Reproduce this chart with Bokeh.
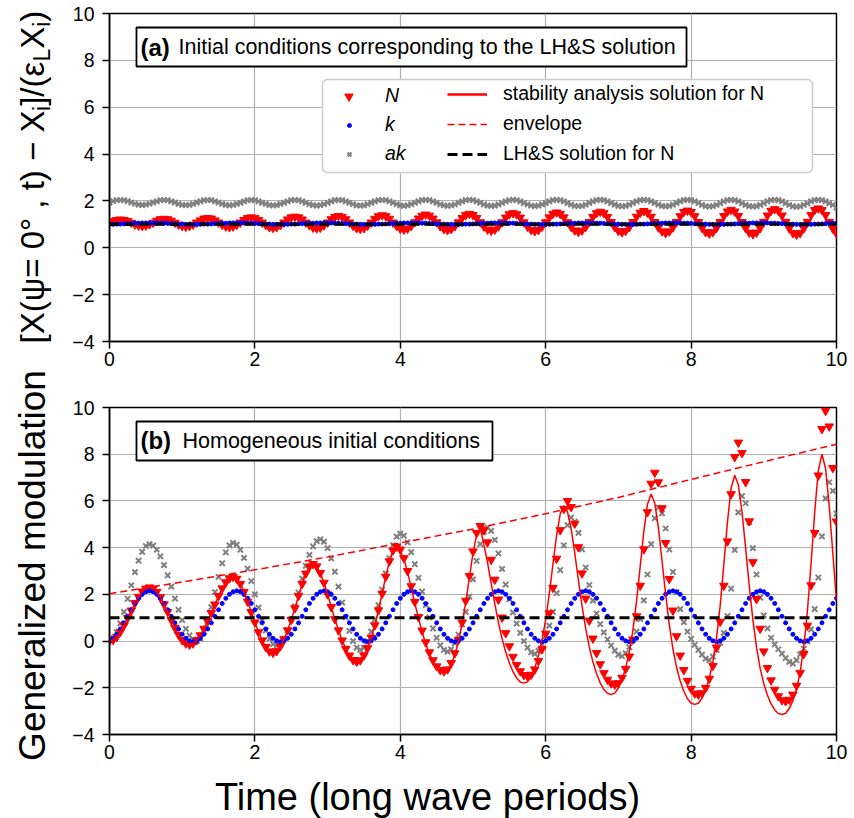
import numpy as np
from bokeh.plotting import figure
from bokeh.layouts import column, row
from bokeh.models import Label, BoxAnnotation, Legend, LegendItem
from bokeh.embed import file_html
from bokeh.resources import INLINE

# ---------------- data ----------------
time_step = 0.05
time = np.round(np.arange(201) * time_step, 2)   # long wave periods

# panel (a): initial conditions corresponding to the LH&S solution
N_a = [1.07, 1.14, 1.19, 1.21, 1.19, 1.14, 1.07, 1.00, 0.95, 0.93, 0.95, 1.00,
       1.07, 1.16, 1.22, 1.24, 1.22, 1.16, 1.07, 0.99, 0.93, 0.90, 0.93, 0.99,
       1.08, 1.17, 1.25, 1.27, 1.25, 1.17, 1.08, 0.98, 0.91, 0.88, 0.91, 0.98,
       1.08, 1.19, 1.27, 1.30, 1.27, 1.19, 1.08, 0.97, 0.88, 0.85, 0.88, 0.97,
       1.08, 1.21, 1.30, 1.33, 1.30, 1.21, 1.08, 0.96, 0.86, 0.83, 0.86, 0.96,
       1.08, 1.22, 1.32, 1.36, 1.32, 1.22, 1.08, 0.94, 0.84, 0.81, 0.84, 0.94,
       1.08, 1.24, 1.35, 1.39, 1.35, 1.24, 1.08, 0.93, 0.82, 0.78, 0.82, 0.93,
       1.09, 1.25, 1.37, 1.42, 1.37, 1.25, 1.09, 0.92, 0.80, 0.76, 0.80, 0.92,
       1.09, 1.27, 1.40, 1.45, 1.40, 1.27, 1.09, 0.91, 0.78, 0.73, 0.78, 0.91,
       1.09, 1.29, 1.43, 1.48, 1.43, 1.29, 1.09, 0.90, 0.76, 0.71, 0.76, 0.90,
       1.09, 1.30, 1.45, 1.51, 1.45, 1.30, 1.09, 0.89, 0.74, 0.68, 0.74, 0.89,
       1.10, 1.32, 1.48, 1.54, 1.48, 1.32, 1.10, 0.88, 0.72, 0.66, 0.72, 0.88,
       1.10, 1.33, 1.50, 1.57, 1.50, 1.33, 1.10, 0.87, 0.70, 0.63, 0.70, 0.87,
       1.10, 1.35, 1.53, 1.59, 1.53, 1.35, 1.10, 0.85, 0.67, 0.61, 0.67, 0.85,
       1.10, 1.36, 1.55, 1.62, 1.55, 1.36, 1.10, 0.84, 0.65, 0.58, 0.65, 0.84,
       1.11, 1.38, 1.58, 1.65, 1.58, 1.38, 1.11, 0.83, 0.63, 0.56, 0.63, 0.83,
       1.11, 1.40, 1.61, 1.68, 1.61, 1.40, 1.11, 0.82, 0.61]

k_a = [1.00, 1.00, 1.01, 1.01, 1.02, 1.03, 1.04, 1.05, 1.05, 1.06, 1.06, 1.06,
       1.06, 1.06, 1.05, 1.05, 1.04, 1.03, 1.02, 1.01, 1.01, 1.00, 1.00, 1.00,
       1.00, 1.00, 1.01, 1.01, 1.02, 1.03, 1.04, 1.05, 1.05, 1.06, 1.06, 1.06,
       1.06, 1.06, 1.05, 1.05, 1.04, 1.03, 1.02, 1.01, 1.01, 1.00, 1.00, 1.00,
       1.00, 1.00, 1.01, 1.01, 1.02, 1.03, 1.04, 1.05, 1.05, 1.06, 1.06, 1.06,
       1.06, 1.06, 1.05, 1.05, 1.04, 1.03, 1.02, 1.01, 1.01, 1.00, 1.00, 1.00,
       1.00, 1.00, 1.01, 1.01, 1.02, 1.03, 1.04, 1.05, 1.05, 1.06, 1.06, 1.06,
       1.06, 1.06, 1.05, 1.05, 1.04, 1.03, 1.02, 1.01, 1.01, 1.00, 1.00, 1.00,
       1.00, 1.00, 1.01, 1.01, 1.02, 1.03, 1.04, 1.05, 1.05, 1.06, 1.06, 1.06,
       1.06, 1.06, 1.05, 1.05, 1.04, 1.03, 1.02, 1.01, 1.01, 1.00, 1.00, 1.00,
       1.00, 1.00, 1.01, 1.01, 1.02, 1.03, 1.04, 1.05, 1.05, 1.06, 1.06, 1.06,
       1.06, 1.06, 1.05, 1.05, 1.04, 1.03, 1.02, 1.01, 1.01, 1.00, 1.00, 1.00,
       1.00, 1.00, 1.01, 1.01, 1.02, 1.03, 1.04, 1.05, 1.05, 1.06, 1.06, 1.06,
       1.06, 1.06, 1.05, 1.05, 1.04, 1.03, 1.02, 1.01, 1.01, 1.00, 1.00, 1.00,
       1.00, 1.00, 1.01, 1.01, 1.02, 1.03, 1.04, 1.05, 1.05, 1.06, 1.06, 1.06,
       1.06, 1.06, 1.05, 1.05, 1.04, 1.03, 1.02, 1.01, 1.01, 1.00, 1.00, 1.00,
       1.00, 1.00, 1.01, 1.01, 1.02, 1.03, 1.04, 1.05, 1.05]

ak_a = [1.93, 1.99, 2.03, 2.04, 2.03, 1.99, 1.93, 1.88, 1.84, 1.82, 1.84, 1.88,
        1.93, 1.98, 2.03, 2.04, 2.03, 1.98, 1.93, 1.87, 1.83, 1.82, 1.83, 1.87,
        1.93, 1.98, 2.03, 2.04, 2.03, 1.98, 1.93, 1.87, 1.83, 1.81, 1.83, 1.87,
        1.92, 1.98, 2.03, 2.04, 2.03, 1.98, 1.92, 1.87, 1.82, 1.81, 1.82, 1.87,
        1.92, 1.98, 2.03, 2.04, 2.03, 1.98, 1.92, 1.86, 1.82, 1.80, 1.82, 1.86,
        1.92, 1.98, 2.03, 2.04, 2.03, 1.98, 1.92, 1.86, 1.81, 1.80, 1.81, 1.86,
        1.92, 1.98, 2.03, 2.04, 2.03, 1.98, 1.92, 1.86, 1.81, 1.79, 1.81, 1.86,
        1.92, 1.98, 2.03, 2.05, 2.03, 1.98, 1.92, 1.85, 1.81, 1.79, 1.81, 1.85,
        1.92, 1.98, 2.03, 2.05, 2.03, 1.98, 1.92, 1.85, 1.80, 1.79, 1.80, 1.85,
        1.91, 1.98, 2.03, 2.05, 2.03, 1.98, 1.91, 1.85, 1.80, 1.78, 1.80, 1.85,
        1.91, 1.98, 2.03, 2.05, 2.03, 1.98, 1.91, 1.84, 1.79, 1.78, 1.79, 1.84,
        1.91, 1.98, 2.03, 2.05, 2.03, 1.98, 1.91, 1.84, 1.79, 1.77, 1.79, 1.84,
        1.91, 1.98, 2.03, 2.05, 2.03, 1.98, 1.91, 1.84, 1.79, 1.77, 1.79, 1.84,
        1.91, 1.98, 2.03, 2.05, 2.03, 1.98, 1.91, 1.83, 1.78, 1.76, 1.78, 1.83,
        1.90, 1.98, 2.03, 2.05, 2.03, 1.98, 1.90, 1.83, 1.78, 1.76, 1.78, 1.83,
        1.90, 1.98, 2.03, 2.05, 2.03, 1.98, 1.90, 1.83, 1.77, 1.75, 1.77, 1.83,
        1.90, 1.98, 2.03, 2.05, 2.03, 1.98, 1.90, 1.83, 1.72]

# panel (b): homogeneous initial conditions
N_b = [0.00, 0.05, 0.18, 0.40, 0.67, 0.99, 1.31, 1.63, 1.90, 2.12, 2.25, 2.30,
       2.25, 2.11, 1.88, 1.58, 1.25, 0.90, 0.57, 0.27, 0.04, -0.10, -0.15,
       -0.10, 0.04, 0.25, 0.53, 0.85, 1.20, 1.57, 1.93, 2.26, 2.52, 2.69, 2.75,
       2.67, 2.45, 2.11, 1.69, 1.24, 0.80, 0.38, 0.03, -0.25, -0.44, -0.50,
       -0.43, -0.22, 0.08, 0.46, 0.91, 1.41, 1.94, 2.45, 2.89, 3.19, 3.30,
       3.20, 2.92, 2.50, 2.00, 1.46, 0.94, 0.46, 0.03, -0.33, -0.62, -0.81, -0.88,
       -0.82, -0.61, -0.29, 0.15, 0.68, 1.32, 2.03, 2.76, 3.42, 3.88, 4.05,
       3.92, 3.55, 3.00, 2.35, 1.68, 1.03, 0.45, -0.05, -0.48, -0.82, -1.08, -1.24, -1.29,
       -1.21, -0.94, -0.52, 0.05, 0.80, 1.73, 2.79, 3.84, 4.63, 4.93,
       4.75, 4.23, 3.48, 2.63, 1.78, 1.01, 0.34, -0.22, -0.67, -1.02, -1.29, -1.45, -1.50,
       -1.44, -1.21, -0.85, -0.35, 0.32, 1.19, 2.28, 3.53, 4.75, 5.66, 6.00,
       5.74, 5.03, 4.02, 2.90, 1.82, 0.88, 0.11, -0.51, -0.99, -1.37, -1.65, -1.81, -1.86,
       -1.80, -1.57, -1.19, -0.66, 0.07, 1.06, 2.37, 3.93, 5.52, 6.74, 7.21,
       6.80, 5.69, 4.20, 2.66, 1.31, 0.21, -0.62, -1.24, -1.70, -2.04, -2.24, -2.29,
       -2.23, -2.00, -1.61, -1.06, -0.28, 0.83, 2.37, 4.27, 6.29, 7.88, 8.50,
       8.05, 6.81, 5.13, 3.38, 1.80, 0.53, -0.44, -1.15, -1.68, -2.08, -2.36, -2.53, -2.57,
       -2.51, -2.29, -1.91, -1.36, -0.55, 0.66, 2.39, 4.63, 7.09, 9.08, 9.86,
       9.19, 7.41, 5.12]

k_b = [0.01, 0.12, 0.29, 0.52, 0.78, 1.06, 1.34, 1.61, 1.83, 2.00, 2.11, 2.15,
       2.11, 2.00, 1.83, 1.61, 1.34, 1.06, 0.78, 0.52, 0.29, 0.12, 0.01, -0.03,
       0.01, 0.12, 0.29, 0.52, 0.78, 1.06, 1.34, 1.61, 1.83, 2.00, 2.11, 2.15,
       2.11, 2.00, 1.83, 1.61, 1.34, 1.06, 0.78, 0.52, 0.29, 0.12, 0.01, -0.03,
       0.01, 0.12, 0.29, 0.52, 0.78, 1.06, 1.34, 1.61, 1.83, 2.00, 2.11, 2.15,
       2.11, 2.00, 1.83, 1.61, 1.34, 1.06, 0.78, 0.52, 0.29, 0.12, 0.01, -0.03,
       0.01, 0.12, 0.29, 0.52, 0.78, 1.06, 1.34, 1.61, 1.83, 2.00, 2.11, 2.15,
       2.11, 2.00, 1.83, 1.61, 1.34, 1.06, 0.78, 0.52, 0.29, 0.12, 0.01, -0.03,
       0.01, 0.12, 0.29, 0.52, 0.78, 1.06, 1.34, 1.61, 1.83, 2.00, 2.11, 2.15,
       2.11, 2.00, 1.83, 1.61, 1.34, 1.06, 0.78, 0.52, 0.29, 0.12, 0.01, -0.03,
       0.01, 0.12, 0.29, 0.52, 0.78, 1.06, 1.34, 1.61, 1.83, 2.00, 2.11, 2.15,
       2.11, 2.00, 1.83, 1.61, 1.34, 1.06, 0.78, 0.52, 0.29, 0.12, 0.01, -0.03,
       0.01, 0.12, 0.29, 0.52, 0.78, 1.06, 1.34, 1.61, 1.83, 2.00, 2.11, 2.15,
       2.11, 2.00, 1.83, 1.61, 1.34, 1.06, 0.78, 0.52, 0.29, 0.12, 0.01, -0.03,
       0.01, 0.12, 0.29, 0.52, 0.78, 1.06, 1.34, 1.61, 1.83, 2.00, 2.11, 2.15,
       2.11, 2.00, 1.83, 1.61, 1.34, 1.06, 0.78, 0.52, 0.29, 0.12, 0.01, -0.03,
       0.01, 0.12, 0.29, 0.52, 0.78, 1.06, 1.34, 1.61, 1.83]

ak_b = [0.05, 0.13, 0.38, 0.76, 1.25, 1.81, 2.39, 2.95, 3.44, 3.82, 4.07, 4.15,
        4.09, 3.91, 3.63, 3.25, 2.81, 2.33, 1.82, 1.34, 0.90, 0.52, 0.24, 0.06, 0.00,
        0.10, 0.40, 0.87, 1.45, 2.10, 2.75, 3.33, 3.80, 4.10, 4.20,
        4.13, 3.91, 3.56, 3.10, 2.57, 2.00, 1.43, 0.90, 0.45, 0.09, -0.13, -0.20,
        -0.12, 0.11, 0.47, 0.94, 1.49, 2.08, 2.67, 3.22, 3.69, 4.05, 4.28, 4.36,
        4.26, 3.98, 3.54, 2.97, 2.33, 1.65, 1.01, 0.44, 0.00, -0.28, -0.38,
        -0.28, -0.01, 0.40, 0.93, 1.54, 2.20, 2.90, 3.55, 4.10, 4.47, 4.60,
        4.51, 4.23, 3.81, 3.29, 2.71, 2.12, 1.54, 1.01, 0.54, 0.14, -0.18, -0.38, -0.45,
        -0.35, -0.09, 0.27, 0.71, 1.25, 1.90, 2.64, 3.43, 4.15, 4.67, 4.86,
        4.72, 4.33, 3.75, 3.09, 2.42, 1.79, 1.23, 0.75, 0.35, 0.00, -0.28, -0.48, -0.55,
        -0.42, -0.14, 0.21, 0.66, 1.25, 2.05, 3.04, 4.10, 4.96, 5.29,
        5.11, 4.63, 3.93, 3.15, 2.40, 1.73, 1.18, 0.73, 0.37, 0.07, -0.19, -0.41, -0.58, -0.65,
        -0.52, -0.26, 0.03, 0.40, 0.94, 1.74, 2.85, 4.15, 5.26, 5.71,
        5.47, 4.82, 3.92, 2.96, 2.09, 1.37, 0.81, 0.40, 0.09, -0.16, -0.38, -0.58, -0.75, -0.82,
        -0.66, -0.38, -0.08, 0.35, 1.07, 2.25, 3.90, 5.51, 6.21,
        5.90, 5.08, 3.98, 2.85, 1.86, 1.10, 0.54, 0.14, -0.14, -0.35, -0.54, -0.73, -0.89, -0.97,
        -0.82, -0.57, -0.33, -0.01, 0.50, 1.37, 2.72, 4.48, 6.11, 6.80,
        6.43, 5.46]

# stability analysis solution for N: identical to the markers early on, then diverging
stab_b = N_b[:79] + [
    4.00,
    3.87, 3.50, 2.95, 2.30, 1.62, 0.98, 0.39, -0.11, -0.54, -0.88, -1.14, -1.30, -1.35,
    -1.27, -1.01, -0.59, -0.02, 0.73, 1.66, 2.72, 3.76, 4.55, 4.85,
    4.13, 3.36, 2.47, 1.59, 0.79, 0.10, -0.47, -0.94, -1.31, -1.58, -1.75, -1.80,
    -1.74, -1.51, -1.14, -0.63, 0.05, 0.93, 2.04, 3.30, 4.53, 5.45, 5.80,
    5.53, 4.80, 3.76, 2.61, 1.50, 0.54, -0.26, -0.90, -1.40, -1.79, -2.07, -2.24, -2.29,
    -2.23, -2.01, -1.66, -1.15, -0.46, 0.48, 1.72, 3.20, 4.70, 5.86, 6.30,
    5.91, 4.86, 3.45, 1.99, 0.70, -0.34, -1.13, -1.71, -2.15, -2.47, -2.66, -2.71,
    -2.66, -2.45, -2.10, -1.59, -0.88, 0.13, 1.52, 3.26, 5.09, 6.54, 7.10,
    6.68, 5.54, 3.98, 2.36, 0.91, -0.27, -1.17, -1.83, -2.32, -2.68, -2.95, -3.10, -3.14,
    -3.09, -2.89, -2.55, -2.05, -1.33, -0.25, 1.30, 3.31, 5.51, 7.30, 8.00,
    7.39, 5.79, 3.73, 1.73]

env_t = [0, 1, 2, 3, 4, 5, 6, 7, 8, 9, 10]
env_b = [2.03, 2.53, 3.05, 3.60, 4.20, 4.80, 5.45, 6.15, 6.92, 7.68, 8.43]

lhs_t = [0, 10]
lhs_N = [1.0, 1.0]

x_ticks = [0, 2, 4, 6, 8, 10]
y_ticks = [-4, -2, 0, 2, 4, 6, 8, 10]
y_tick_text = {-4: "\u22124", -2: "\u22122"}

# ---------------- styling helpers ----------------
FONT = "Liberation Sans"
RED, BLUE, GRAY = "#ff0000", "#0000ff", "#808080"


def make_fig(height, top, bottom):
    p = figure(width=785, height=height, x_range=(0, 10), y_range=(-4, 10),
               output_backend="svg", toolbar_location=None,
               min_border_left=46, min_border_right=12,
               min_border_top=top, min_border_bottom=bottom)
    p.background_fill_color = "white"
    p.border_fill_color = "white"
    p.outline_line_color = "black"
    p.outline_line_width = 1.5
    p.outline_line_alpha = 1.0
    for ax in (p.xaxis[0], p.yaxis[0]):
        ax.axis_line_color = "black"
        ax.axis_line_width = 1.5
        ax.major_tick_line_color = "black"
        ax.major_tick_line_width = 1.5
        ax.major_tick_out = 7
        ax.major_tick_in = 0
        ax.minor_tick_out = 0
        ax.minor_tick_in = 0
        ax.major_label_text_font = FONT
        ax.major_label_text_font_size = "19.5px"
        ax.major_label_text_color = "black"
    p.xaxis.ticker = x_ticks
    p.yaxis.ticker = y_ticks
    p.yaxis.major_label_overrides = y_tick_text
    p.xaxis.major_label_standoff = 3
    p.yaxis.major_label_standoff = 8
    p.grid.grid_line_color = "#b0b0b0"
    p.grid.grid_line_width = 1.2
    return p


def blank_fig(width, height):
    p = figure(width=width, height=height, x_range=(0, width), y_range=(0, height),
               x_axis_type=None, y_axis_type=None, output_backend="svg",
               toolbar_location=None, min_border=0)
    p.outline_line_color = None
    p.background_fill_color = "white"
    p.border_fill_color = "white"
    return p


def txt(p, x, y, text, size, **kw):
    lab = Label(x=x, y=y, text=text, text_font=FONT, text_font_size=size,
                text_color="black", **kw)
    p.add_layout(lab)
    return lab


def box(p, left, right, bottom, top, color, width, radius=0):
    p.add_layout(BoxAnnotation(left=left, right=right, bottom=bottom, top=top,
                               fill_color="white", fill_alpha=1.0,
                               line_color=color, line_alpha=1.0, line_width=width,
                               border_radius=radius))


def legend(items, loc, gw, standoff, italic=False):
    leg = Legend(items=items, location=loc, orientation="vertical",
                 glyph_width=gw, glyph_height=22, label_height=22, spacing=7,
                 label_standoff=standoff, padding=0, margin=0,
                 border_line_alpha=0, background_fill_alpha=0,
                 inactive_fill_alpha=0,
                 label_text_font=FONT, label_text_font_size="19.5px",
                 label_text_color="black",
                 label_text_font_style="italic" if italic else "normal")
    return leg


# ---------------- panel (a) ----------------
pa = make_fig(387, 13, 46)
r_ak_a = pa.scatter(time, ak_a, marker="x", size=7.5, line_color=GRAY, line_width=2)
r_N_a = pa.scatter(time, N_a, marker="inverted_triangle", size=8.5,
                   fill_color=RED, line_color=RED)
r_k_a = pa.scatter(time, k_a, marker="circle", size=4, fill_color=BLUE, line_color=BLUE)
r_lhs_a = pa.line(lhs_t, lhs_N, line_color="black", line_width=3, line_dash="10 5")
# series only shown in panel (b); kept hidden here so the legend can show their style
r_stab_a = pa.line(time, N_a, line_color=RED, line_width=2.5, visible=False)
r_env_a = pa.line(env_t, env_b, line_color=RED, line_width=1.5, line_dash="7 4",
                  visible=False)

box(pa, 0.371, 7.937, 7.738, 9.402, "black", 1.8)
txt(pa, 0.426, 8.570, "(a)", "24px", text_font_style="bold", text_baseline="middle")
txt(pa, 0.949, 8.570, "Initial conditions corresponding to the LH&S solution", "21.5px",
    text_baseline="middle")

box(pa, 2.930, 9.670, 3.214, 7.183, "#cccccc", 1.5, radius=5)
pa.add_layout(legend([LegendItem(label="N", renderers=[r_N_a])], (229, 234), 21, 26, True))
pa.add_layout(legend([LegendItem(label="k", renderers=[r_k_a])], (235, 205), 10, 31, True))
pa.add_layout(legend([LegendItem(label="ak", renderers=[r_ak_a])], (233, 176), 14, 29, True))
pa.add_layout(legend([LegendItem(label="stability analysis solution for N", renderers=[r_stab_a]),
                      LegendItem(label="envelope", renderers=[r_env_a]),
                      LegendItem(label="LH&S solution for N", renderers=[r_lhs_a])],
                     (338, 176), 40, 16))

# ---------------- panel (b) ----------------
pb = make_fig(383, 20, 36)
pb.scatter(time, ak_b, marker="x", size=7.5, line_color=GRAY, line_width=2)
pb.scatter(time, N_b, marker="inverted_triangle", size=8.5, fill_color=RED, line_color=RED)
pb.scatter(time, k_b, marker="circle", size=4, fill_color=BLUE, line_color=BLUE)
pb.line(time, stab_b, line_color=RED, line_width=1.5)
pb.line(env_t, env_b, line_color=RED, line_width=1.5, line_dash="7 4")
pb.line(lhs_t, lhs_N, line_color="black", line_width=3, line_dash="10 5")

box(pb, 0.371, 5.268, 7.731, 9.400, "black", 1.8)
txt(pb, 0.426, 8.566, "(b)", "24px", text_font_style="bold", text_baseline="middle")
txt(pb, 1.004, 8.566, "Homogeneous initial conditions", "21.5px", text_baseline="middle")

# ---------------- axis titles (separate blank canvases) ----------------
pl = blank_fig(63, 770)          # left strip: page x 0..63, y 0..770
rot = dict(angle=90, angle_units="deg", text_align="left", text_baseline="middle")
YL_X, YL_SUB_X = 31.6, 41.0
txt(pl, YL_X, 427.0, "[X(\u03c8= 0\u00b0 , t) \u2212 X", "33px", **rot)
txt(pl, YL_SUB_X, 659.6, "i", "23px", **rot)
txt(pl, YL_X, 664.7, "]/(\u03b5", "33px", **rot)
txt(pl, YL_SUB_X, 708.9, "L", "23px", **rot)
txt(pl, YL_X, 721.7, "X", "33px", **rot)
txt(pl, YL_SUB_X, 743.7, "i", "23px", **rot)
txt(pl, YL_X, 748.8, ")", "33px", **rot)
txt(pl, 31.7, 205, "Generalized modulation", "37px",
    angle=90, angle_units="deg", text_align="center", text_baseline="middle")

px = blank_fig(848, 48)          # bottom strip: page y 770..818
txt(px, 427, 22, "Time (long wave periods)", "38px",
    text_align="center", text_baseline="middle")

layout = column(row(pl, column(pa, pb)), px)
open("out.html", "w").write(file_html(layout, INLINE))
